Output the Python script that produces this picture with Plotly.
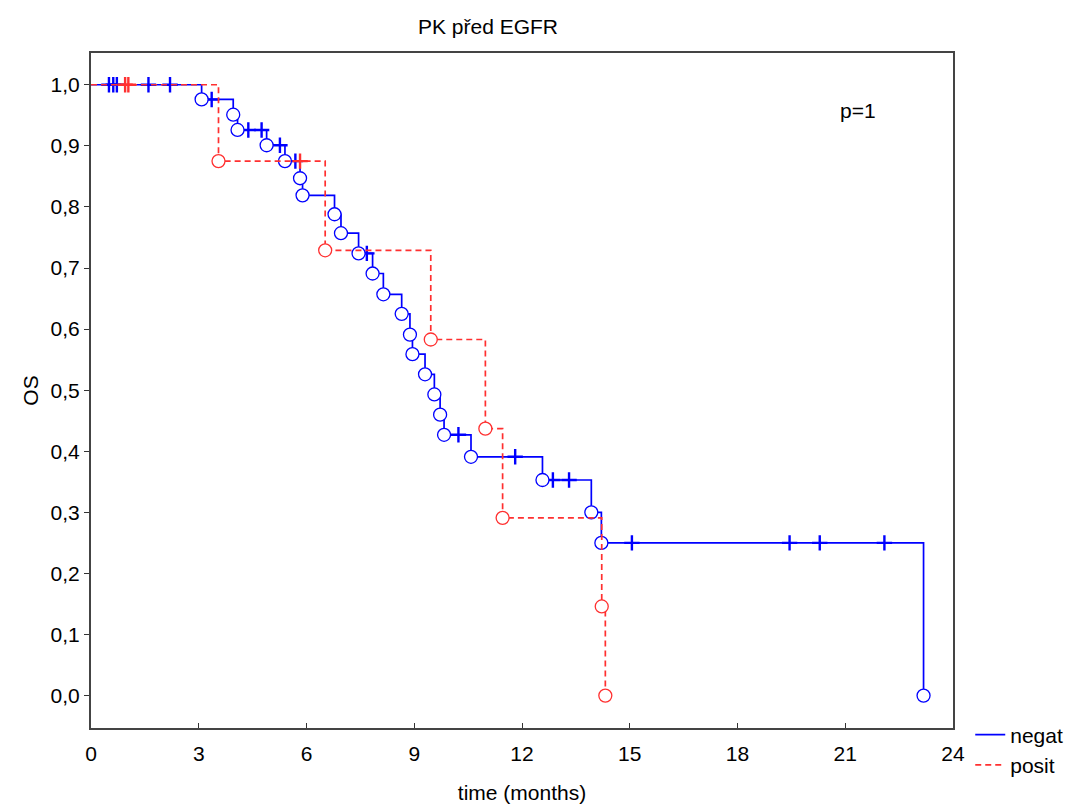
import numpy as np
import plotly.graph_objects as go

# Kaplan-Meier estimates (time in months, survival after each death)
negat_event_t = [3.08, 3.96, 4.08, 4.89, 5.40, 5.82, 5.89, 6.78, 6.96, 7.45, 7.84, 8.14,
                 8.65, 8.88, 8.95, 9.30, 9.56, 9.72, 9.83, 10.58, 12.57, 13.93, 14.21, 23.18]
negat_surv = [0.976, 0.951, 0.926, 0.901, 0.875, 0.847, 0.819, 0.788, 0.757, 0.724, 0.691, 0.657,
              0.625, 0.591, 0.559, 0.526, 0.493, 0.460, 0.427, 0.391, 0.353, 0.300, 0.250, 0.0]
negat_censor_t = [0.50, 0.62, 0.72, 1.60, 2.20, 3.36, 4.38, 4.75, 5.26, 5.69, 7.68, 10.23,
                  11.81, 12.86, 13.31, 15.06, 19.45, 20.29, 22.09]

posit_event_t = [3.55, 6.52, 9.46, 10.98, 11.46, 14.22, 14.32]
posit_surv = [0.875, 0.729, 0.583, 0.437, 0.291, 0.146, 0.0]
posit_censor_t = [0.95, 1.04, 5.82]

x_ticks = [0, 3, 6, 9, 12, 15, 18, 21, 24]
y_ticks = [0.0, 0.1, 0.2, 0.3, 0.4, 0.5, 0.6, 0.7, 0.8, 0.9, 1.0]

FONT = "Liberation Sans, Arial, sans-serif"
BLUE = "#0000ff"
RED = "#ff3030"


def step_level(times, surv, t):
    """Survival level of the step curve at time t."""
    idx = np.searchsorted(np.asarray(times), t, side="right")
    return 1.0 if idx == 0 else surv[idx - 1]


def add_group(fig, name, ev_t, surv, cens_t, color, dash):
    xs = [0.0] + list(ev_t)
    ys = [1.0] + list(surv)
    fig.add_trace(go.Scatter(
        x=xs, y=ys, mode="lines", line=dict(color=color, width=1.7, dash=dash, shape="hv"),
        name=name, showlegend=True, hoverinfo="skip"))
    fig.add_trace(go.Scatter(
        x=cens_t, y=[step_level(ev_t, surv, t) for t in cens_t], mode="markers", showlegend=False,
        marker=dict(symbol="cross-thin", size=11, color=color, line=dict(width=2.4, color=color))))
    fig.add_trace(go.Scatter(
        x=ev_t, y=surv, mode="markers", showlegend=False,
        marker=dict(symbol="circle", size=13, color="white", line=dict(width=1.3, color=color))))


fig = go.Figure()
add_group(fig, "negat", negat_event_t, negat_surv, negat_censor_t, BLUE, "solid")
add_group(fig, "posit", posit_event_t, posit_surv, posit_censor_t, RED, "6px,4px")

fig.add_annotation(x=20.8, y=0.958, text="p=1", showarrow=False, xanchor="left",
                   font=dict(family=FONT, size=21, color="black"))

fig.update_layout(
    width=1082, height=807,
    margin=dict(l=91, r=129, t=53, b=79, autoexpand=False),
    paper_bgcolor="white", plot_bgcolor="white",
    separators=", ",
    font=dict(family=FONT, size=21, color="black"),
    title=dict(text="PK před EGFR", x=0.451, xanchor="center", y=0.967, yanchor="middle",
               font=dict(family=FONT, size=21, color="black")),
    legend=dict(x=1.02, y=0.02, xanchor="left", yanchor="top", bgcolor="rgba(0,0,0,0)",
                font=dict(family=FONT, size=21), tracegroupgap=0, itemwidth=30),
    showlegend=True,
)
fig.update_xaxes(
    range=[0, 24], tickvals=x_ticks, ticks="inside", ticklen=5, tickwidth=1, tickcolor="#333",
    ticklabelstandoff=6, automargin=False,
    showline=True, linecolor="#444", linewidth=2, mirror=True, showgrid=False, zeroline=False,
    title=dict(text="time (months)", standoff=21, font=dict(family=FONT, size=21)),
)
fig.update_yaxes(
    range=[-0.053, 1.052], tickvals=y_ticks, tickformat=".1f", ticks="outside", ticklen=5,
    tickwidth=1, tickcolor="#333", automargin=False,
    showline=True, linecolor="#444", linewidth=2, mirror=True, showgrid=False, zeroline=False,
    title=dict(text="OS", standoff=6, font=dict(family=FONT, size=21)),
)

fig.write_html("out.html")
